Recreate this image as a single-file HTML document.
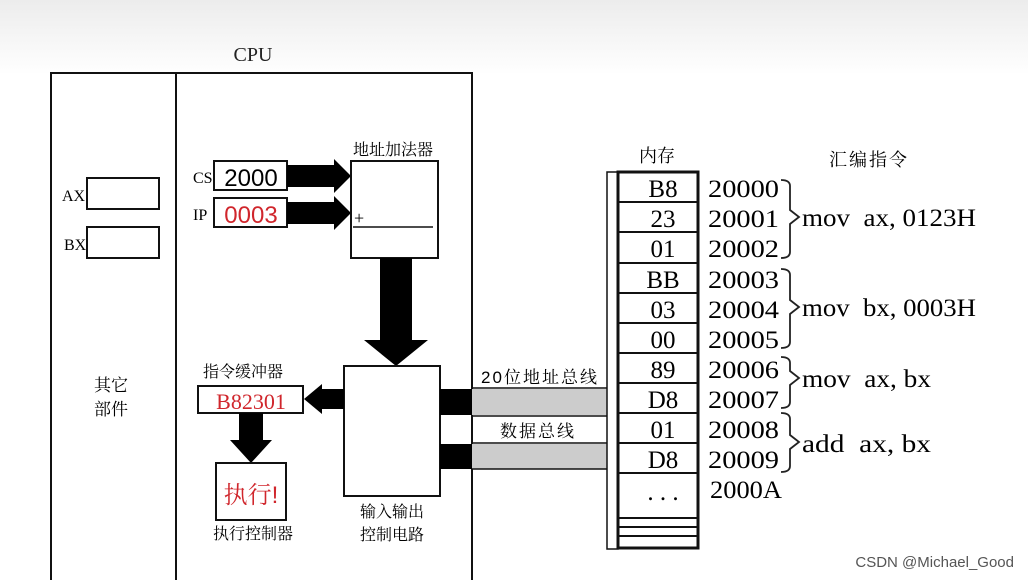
<!DOCTYPE html>
<html><head><meta charset="utf-8"><style>
body{margin:0;width:1028px;height:580px;overflow:hidden;background:#fff}
svg{display:block}
text{white-space:pre}
.s{font-family:"Liberation Serif","Noto Serif CJK SC",serif}
.c{font-family:"Liberation Sans","Noto Serif CJK SC",sans-serif}
</style></head><body>
<svg width="1028" height="580" viewBox="0 0 1028 580">
<defs><linearGradient id="g" x1="0" y1="0" x2="0" y2="1"><stop offset="0" stop-color="#ececec"/><stop offset="1" stop-color="#fff"/></linearGradient></defs>
<rect width="1028" height="75" fill="url(#g)"/>
<text x="253" y="61" class="s" font-size="20" text-anchor="middle" fill="#222">CPU</text>
<rect x="51" y="73" width="421" height="510" fill="none" stroke="#111" stroke-width="2"/>
<line x1="176" y1="73" x2="176" y2="580" stroke="#111" stroke-width="2"/>
<rect x="87" y="178" width="72" height="31" fill="none" stroke="#111" stroke-width="2"/>
<rect x="87" y="227" width="72" height="31" fill="none" stroke="#111" stroke-width="2"/>
<text x="62" y="201" class="s" font-size="16">AX</text>
<text x="64" y="250" class="s" font-size="16">BX</text>
<text x="111" y="391" class="c" font-size="17" text-anchor="middle">其它</text>
<text x="111" y="415" class="c" font-size="17" text-anchor="middle">部件</text>
<text x="193" y="183" class="s" font-size="16">CS</text>
<text x="193" y="220" class="s" font-size="16">IP</text>
<rect x="214" y="161" width="73" height="29" fill="#fff" stroke="#111" stroke-width="2"/>
<rect x="214" y="198" width="73" height="29" fill="#fff" stroke="#111" stroke-width="2"/>
<text x="251" y="186" class="c" font-size="24" text-anchor="middle">2000</text>
<text x="251" y="223" class="c" font-size="24" text-anchor="middle" fill="#d0262c">0003</text>
<polygon points="287,165 334,165 334,159 351,176 334,193 334,187 287,187" fill="#000"/>
<polygon points="287,202 334,202 334,196 351,213 334,230 334,224 287,224" fill="#000"/>
<text x="393" y="155" class="c" font-size="16" text-anchor="middle">地址加法器</text>
<rect x="351" y="161" width="87" height="97" fill="#fff" stroke="#111" stroke-width="2"/>
<line x1="353" y1="227" x2="433" y2="227" stroke="#111" stroke-width="1.5"/>
<text x="354" y="224" class="s" font-size="18">+</text>
<polygon points="380,258 412,258 412,340 428,340 396,366 364,340 380,340" fill="#000"/>
<rect x="344" y="366" width="96" height="130" fill="#fff" stroke="#111" stroke-width="2"/>
<text x="392" y="517" class="c" font-size="16" text-anchor="middle">输入输出</text>
<text x="392" y="540" class="c" font-size="16" text-anchor="middle">控制电路</text>
<text x="243" y="377" class="c" font-size="16" text-anchor="middle">指令缓冲器</text>
<rect x="198" y="386" width="105" height="27" fill="#fff" stroke="#111" stroke-width="2"/>
<text x="251" y="409" class="s" font-size="22" text-anchor="middle" fill="#d0262c">B82301</text>
<polygon points="344,389 322,389 322,384 304,399 322,414 322,409 344,409" fill="#000"/>
<polygon points="239,413 263,413 263,440 272,440 251,463 230,440 239,440" fill="#000"/>
<rect x="216" y="463" width="70" height="57" fill="#fff" stroke="#111" stroke-width="2"/>
<text x="251" y="503" class="c" font-size="24" text-anchor="middle" fill="#d0262c">执行!</text>
<text x="253" y="539" class="c" font-size="16" text-anchor="middle">执行控制器</text>
<rect x="440" y="389" width="32" height="26" fill="#000"/>
<rect x="440" y="444" width="32" height="25" fill="#000"/>
<rect x="472" y="389" width="135" height="26" fill="#ccc"/>
<rect x="472" y="444" width="135" height="25" fill="#ccc"/>
<line x1="472" y1="388" x2="607" y2="388" stroke="#111" stroke-width="1.5"/>
<line x1="472" y1="416" x2="607" y2="416" stroke="#111" stroke-width="1.5"/>
<line x1="472" y1="443" x2="607" y2="443" stroke="#111" stroke-width="1.5"/>
<line x1="472" y1="469" x2="607" y2="469" stroke="#111" stroke-width="1.5"/>
<text x="540" y="383" class="c" font-size="17" text-anchor="middle" letter-spacing="2">20位地址总线</text>
<text x="538" y="437" class="c" font-size="17" text-anchor="middle" letter-spacing="2">数据总线</text>
<text x="657" y="162" class="c" font-size="18" text-anchor="middle">内存</text>
<rect x="607" y="172" width="11" height="377" fill="#fff" stroke="#111" stroke-width="1.5"/>
<rect x="618" y="172" width="80" height="376" fill="#fff" stroke="#111" stroke-width="3"/>
<g stroke="#111" stroke-width="2">
<line x1="618" y1="202" x2="698" y2="202"/><line x1="618" y1="232" x2="698" y2="232"/>
<line x1="618" y1="263" x2="698" y2="263"/><line x1="618" y1="293" x2="698" y2="293"/>
<line x1="618" y1="323" x2="698" y2="323"/><line x1="618" y1="353" x2="698" y2="353"/>
<line x1="618" y1="383" x2="698" y2="383"/><line x1="618" y1="413" x2="698" y2="413"/>
<line x1="618" y1="443" x2="698" y2="443"/><line x1="618" y1="473" x2="698" y2="473"/>
<line x1="618" y1="518" x2="698" y2="518"/><line x1="618" y1="527" x2="698" y2="527"/>
<line x1="618" y1="536" x2="698" y2="536"/>
</g>
<g class="s" font-size="25" text-anchor="middle">
<text x="663" y="197">B8</text><text x="663" y="227">23</text><text x="663" y="257">01</text>
<text x="663" y="288">BB</text><text x="663" y="318">03</text><text x="663" y="348">00</text>
<text x="663" y="378">89</text><text x="663" y="408">D8</text><text x="663" y="438">01</text>
<text x="663" y="468">D8</text><text x="663" y="500">. . .</text>
</g>
<g class="s" font-size="25" lengthAdjust="spacingAndGlyphs">
<text x="708" y="197" textLength="71" lengthAdjust="spacingAndGlyphs">20000</text><text x="708" y="227" textLength="71" lengthAdjust="spacingAndGlyphs">20001</text><text x="708" y="257" textLength="71" lengthAdjust="spacingAndGlyphs">20002</text>
<text x="708" y="288" textLength="71" lengthAdjust="spacingAndGlyphs">20003</text><text x="708" y="318" textLength="71" lengthAdjust="spacingAndGlyphs">20004</text><text x="708" y="348" textLength="71" lengthAdjust="spacingAndGlyphs">20005</text>
<text x="708" y="378" textLength="71" lengthAdjust="spacingAndGlyphs">20006</text><text x="708" y="408" textLength="71" lengthAdjust="spacingAndGlyphs">20007</text><text x="708" y="438" textLength="71" lengthAdjust="spacingAndGlyphs">20008</text>
<text x="708" y="468" textLength="71" lengthAdjust="spacingAndGlyphs">20009</text><text x="710" y="498" textLength="72" lengthAdjust="spacingAndGlyphs">2000A</text>
</g>
<text x="869" y="166" class="c" font-size="18" text-anchor="middle" letter-spacing="2">汇编指令</text>
<g fill="none" stroke="#222" stroke-width="1.8">
<path d="M781,180 Q790,180 790,186 L790,210 L799,217 L790,224 L790,252 Q790,258 781,258"/>
<path d="M781,269 Q790,269 790,275 L790,300 L799,307 L790,314 L790,342 Q790,348 781,348"/>
<path d="M781,357 Q790,357 790,363 L790,371 L799,378 L790,385 L790,402 Q790,408 781,408"/>
<path d="M781,413 Q790,413 790,419 L790,435 L799,442 L790,449 L790,466 Q790,472 781,472"/>
</g>
<g class="s" font-size="25">
<text x="802" y="226" textLength="174" lengthAdjust="spacingAndGlyphs">mov  ax, 0123H</text>
<text x="802" y="316" textLength="174" lengthAdjust="spacingAndGlyphs">mov  bx, 0003H</text>
<text x="802" y="387" textLength="129" lengthAdjust="spacingAndGlyphs">mov  ax, bx</text>
<text x="802" y="452" textLength="129" lengthAdjust="spacingAndGlyphs">add  ax, bx</text>
</g>
<text x="1014" y="567" class="c" font-size="15" text-anchor="end" fill="#555">CSDN @Michael_Good</text>
</svg>
</body></html>
